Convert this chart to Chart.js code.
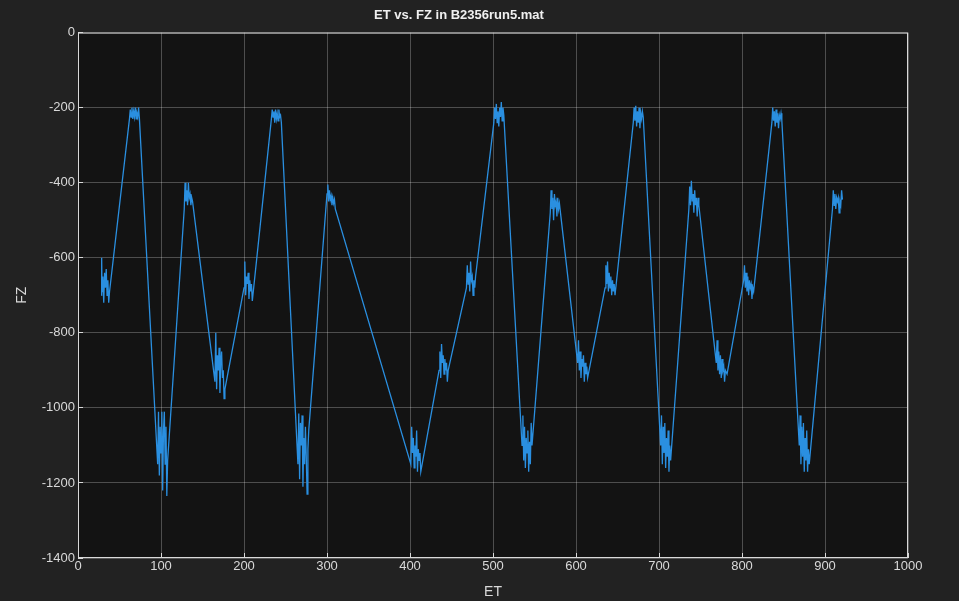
<!DOCTYPE html>
<html><head><meta charset="utf-8">
<script src="https://cdn.jsdelivr.net/npm/chart.js@4.4.1/dist/chart.umd.min.js"></script>
<style>html,body{margin:0;padding:0;background:#222222;}#w{width:959px;height:601px;}</style>
</head><body><div id="w"><canvas id="c"></canvas></div>
<script>
const chartTitle = "ET vs. FZ in B2356run5.mat";
const xTitle = "ET", yTitle = "FZ";
const xTicks = [0,100,200,300,400,500,600,700,800,900,1000];
const yTicks = [0,-200,-400,-600,-800,-1000,-1200,-1400];
// [ET, FZ] samples
const samples = [
[28,-700],[28.5,-600],[29,-690],[30,-650],[31,-720],[32,-640],[33,-680],[34,-630],[35,-700],[36,-660],[37,-720],[38,-690],
[62,-230],[63,-205],[64,-225],[65,-200],[66,-230],[67,-210],[68,-225],[69,-200],[70,-230],[71,-215],[72,-225],[73,-200],[74,-230],
[96,-1150],[97,-1010],[98,-1180],[99,-1050],[100,-1120],[101,-1010],[102,-1220],[103,-1060],[104,-1010],[105,-1150],[106,-1050],[107,-1235],[108,-1140],
[128,-470],[129,-400],[130,-450],[131,-420],[132,-460],[133,-400],[134,-440],[135,-430],[136,-460],[137,-440],[138,-450],
[165,-930],[166,-800],[167,-950],[168,-860],[169,-900],[170,-840],[171,-960],[172,-880],[173,-850],[174,-920],[175,-900],[176,-975],[177,-950],
[200,-680],[201,-610],[202,-700],[203,-650],[204,-670],[205,-640],[206,-710],[207,-660],[208,-690],[209,-670],[210,-715],
[233,-230],[234,-205],[235,-225],[236,-210],[237,-240],[238,-205],[239,-230],[240,-215],[241,-235],[242,-205],[243,-225],[244,-220],[245,-240],
[265,-1150],[266,-1015],[267,-1190],[268,-1040],[269,-1100],[270,-1020],[271,-1210],[272,-1080],[273,-1150],[274,-1050],[275,-1130],[276,-1230],[277,-1110],[278,-1060],
[300,-430],[301,-405],[302,-450],[303,-420],[304,-445],[305,-435],[306,-460],[307,-440],[308,-455],[309,-445],[310,-470],
[401,-1150],[402,-1050],[403,-1120],[404,-1080],[405,-1160],[406,-1100],[407,-1130],[408,-1060],[409,-1170],[410,-1110],[411,-1140],[412,-1120],[413,-1170],
[435,-900],[436,-850],[437,-920],[438,-830],[439,-880],[440,-860],[441,-910],[442,-870],[443,-900],[444,-880],[445,-930],[446,-900],[447,-890],
[468,-680],[469,-620],[470,-670],[471,-640],[472,-690],[473,-610],[474,-660],[475,-650],[476,-700],[477,-660],[478,-680],[479,-650],
[501,-240],[502,-200],[503,-230],[504,-190],[505,-240],[506,-210],[507,-250],[508,-200],[509,-225],[510,-185],[511,-235],[512,-200],[513,-220],
[535,-1100],[536,-1020],[537,-1140],[538,-1050],[539,-1160],[540,-1080],[541,-1120],[542,-1060],[543,-1170],[544,-1090],[545,-1150],[546,-1040],[547,-1100],
[569,-480],[570,-420],[571,-470],[572,-440],[573,-500],[574,-430],[575,-460],[576,-450],[577,-490],[578,-440],[579,-470],[580,-455],
[602,-880],[603,-820],[604,-900],[605,-850],[606,-920],[607,-870],[608,-890],[609,-860],[610,-930],[611,-880],[612,-910],[613,-890],[614,-920],
[635,-680],[636,-620],[637,-670],[638,-610],[639,-690],[640,-640],[641,-680],[642,-650],[643,-700],[644,-660],[645,-690],[646,-670],[647,-700],
[669,-240],[670,-200],[671,-235],[672,-195],[673,-250],[674,-210],[675,-240],[676,-200],[677,-255],[678,-215],[679,-230],[680,-210],[681,-225],
[702,-1100],[703,-1020],[704,-1150],[705,-1050],[706,-1120],[707,-1040],[708,-1160],[709,-1080],[710,-1130],[711,-1060],[712,-1170],[713,-1100],[714,-1140],
[736,-470],[737,-410],[738,-460],[739,-395],[740,-450],[741,-430],[742,-480],[743,-420],[744,-460],[745,-440],[746,-490],[747,-440],[748,-460],
[769,-880],[770,-820],[771,-900],[772,-850],[773,-910],[774,-860],[775,-920],[776,-870],[777,-900],[778,-890],[779,-930],[780,-900],[782,-910],
[802,-660],[803,-620],[804,-680],[805,-640],[806,-690],[807,-650],[808,-700],[809,-660],[810,-680],[811,-670],[812,-710],[813,-680],[814,-690],
[836,-240],[837,-200],[838,-235],[839,-210],[840,-250],[841,-205],[842,-240],[843,-215],[844,-255],[845,-220],[846,-230],[847,-215],[848,-235],
[869,-1100],[870,-1020],[871,-1150],[872,-1050],[873,-1130],[874,-1040],[875,-1170],[876,-1080],[877,-1140],[878,-1060],[879,-1170],[880,-1110],[881,-1150],
[909,-470],[910,-420],[911,-460],[912,-430],[913,-470],[914,-440],[915,-450],[916,-440],[917,-480],[918,-450],[919,-460],[920,-420],[921,-445]
];
const bgPlot = {id:'bgPlot',beforeDraw(c){const a=c.chartArea,x=c.ctx;x.save();x.fillStyle='#131313';x.fillRect(a.left,a.top,a.right-a.left,a.bottom-a.top);x.restore();},
 afterDraw(c){const a=c.chartArea,x=c.ctx;x.save();x.strokeStyle='#d9d9d9';x.lineWidth=1;x.strokeRect(a.left+0.5,a.top+0.5,a.right-a.left-1,a.bottom-a.top-1);x.restore();}};
const font = {family:'"Liberation Sans", Arial, sans-serif', size:13};
new Chart(document.getElementById('c'),{
 type:'line',
 data:{datasets:[{data:samples.map(p=>({x:p[0],y:p[1]})),borderColor:'#2a8fe0',borderWidth:1.3,pointRadius:0,tension:0,fill:false}]},
 options:{responsive:true,maintainAspectRatio:false,animation:false,
  layout:{padding:{top:1,right:51,left:10,bottom:0}},
  plugins:{legend:{display:false},tooltip:{enabled:false},
   title:{display:true,text:chartTitle,color:'#f0f0f0',font:{...font,weight:'bold'},padding:{top:7,bottom:9}}},
  scales:{
   x:{type:'linear',min:0,max:1000,afterBuildTicks(s){s.ticks=xTicks.map(v=>({value:v}));},
    grid:{color:'rgba(255,255,255,0.25)',drawTicks:true,tickLength:-5,tickColor:'#d9d9d9'},border:{display:false},
    ticks:{color:'#d9d9d9',font,padding:6,maxRotation:0,callback:v=>String(v)},
    afterFit(s){s.height=43;},
    title:{display:true,text:xTitle,color:'#d9d9d9',font:{...font,size:14},padding:{top:0,bottom:0}}},
   y:{type:'linear',min:-1400,max:0,afterBuildTicks(s){s.ticks=yTicks.map(v=>({value:v}));},
    grid:{color:'rgba(255,255,255,0.25)',drawTicks:true,tickLength:-5,tickColor:'#d9d9d9'},border:{display:false},
    ticks:{color:'#d9d9d9',font,padding:8,callback:v=>String(v)},
    afterFit(s){s.width=68;},
    title:{display:true,text:yTitle,color:'#d9d9d9',font:{...font,size:14},padding:{bottom:4}}}
  }},
 plugins:[bgPlot]
});
</script></body></html>
